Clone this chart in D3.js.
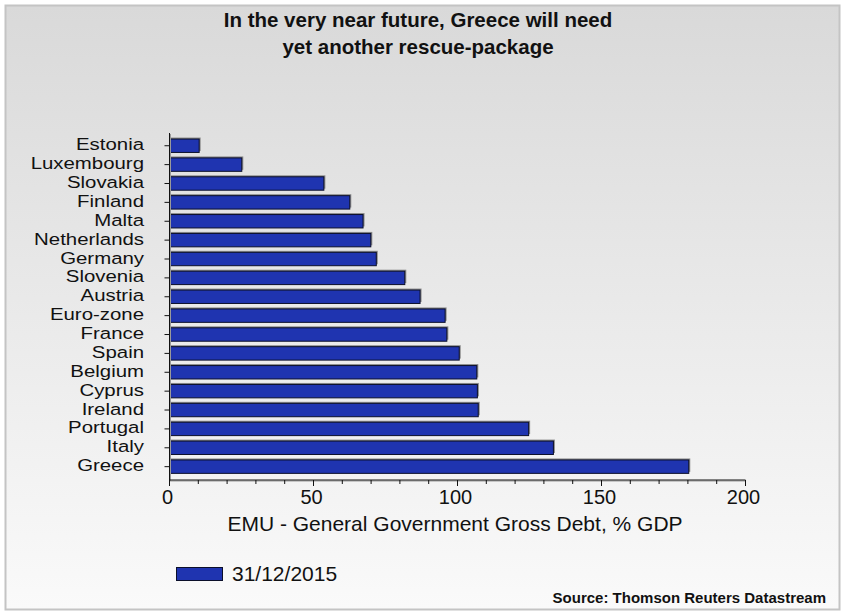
<!DOCTYPE html>
<html>
<head>
<meta charset="utf-8">
<script src="https://cdn.jsdelivr.net/npm/d3@7/dist/d3.min.js"></script>
<style>
  html, body { margin: 0; padding: 0; background: #ffffff; }
  svg { display: block; font-family: "Liberation Sans", Arial, sans-serif; }
</style>
</head>
<body>
<svg id="chart" width="843" height="612"></svg>
<script>
// EMU general government gross debt, % of GDP, as at 31/12/2015
const countries = ["Estonia", "Luxembourg", "Slovakia", "Finland", "Malta", "Netherlands",
  "Germany", "Slovenia", "Austria", "Euro-zone", "France", "Spain", "Belgium", "Cyprus",
  "Ireland", "Portugal", "Italy", "Greece"];
const debt2015 = [10.3, 25.1, 53.6, 62.6, 67.2, 69.9, 71.8, 81.7, 87.0, 95.7, 96.3, 100.6,
  106.7, 106.9, 107.2, 124.7, 133.3, 180.3];
const xTicks = [0, 50, 100, 150, 200];
const xMinorTicks = d3.range(0, 201, 10);
const seriesName = "31/12/2015";
const titleLines = ["In the very near future, Greece will need", "yet another rescue-package"];
const axisTitle = "EMU - General Government Gross Debt, % GDP";
const sourceNote = "Source: Thomson Reuters Datastream";

const svg = d3.select("#chart");
const barFill = "#1f34b0";

// panel background with a soft vertical gradient
const defs = svg.append("defs");
const grad = defs.append("linearGradient").attr("id", "bg").attr("x1", 0).attr("y1", 0).attr("x2", 0).attr("y2", 1);
grad.append("stop").attr("offset", "0%").attr("stop-color", "#d9d9d9");
grad.append("stop").attr("offset", "100%").attr("stop-color", "#fafafa");

svg.append("rect").attr("x", 5.5).attr("y", 5.5).attr("width", 834).attr("height", 604)
  .attr("fill", "url(#bg)").attr("stroke", "#c4c4c4").attr("stroke-width", 2);

// title
const title = svg.append("text").attr("text-anchor", "middle")
  .attr("font-weight", "bold").attr("font-size", 20.5).attr("fill", "#111");
titleLines.forEach((line, i) => {
  title.append("tspan").attr("x", 418).attr("y", 27 + i * 27).text(line);
});

// scales
const x = d3.scaleLinear().domain([0, 200]).range([169.5, 745.5]);
const y = d3.scaleBand().domain(countries).range([136.3, 476.1]).paddingInner(0.29).paddingOuter(0.145);

// bars: grey shadow then filled bar
const bars = svg.append("g");
bars.selectAll("rect.shadow").data(countries).join("rect").attr("class", "shadow")
  .attr("x", x(0) + 1.5).attr("y", d => y(d) - 1.5)
  .attr("width", (d, i) => x(debt2015[i]) - x(0))
  .attr("height", y.bandwidth())
  .attr("fill", "#8a8a8a");
bars.selectAll("rect.bar").data(countries).join("rect").attr("class", "bar")
  .attr("x", x(0)).attr("y", d => y(d))
  .attr("width", (d, i) => x(debt2015[i]) - x(0))
  .attr("height", y.bandwidth())
  .attr("fill", barFill).attr("stroke", "#0b0f2a").attr("stroke-width", 1);

// y axis
const yAxis = svg.append("g");
yAxis.append("line").attr("x1", x(0) + 1).attr("x2", x(0) + 1).attr("y1", 134).attr("y2", 481)
  .attr("stroke", "#9a9a9a").attr("stroke-width", 1);
yAxis.append("line").attr("x1", x(0)).attr("x2", x(0)).attr("y1", 133).attr("y2", 480)
  .attr("stroke", "#111").attr("stroke-width", 1);
yAxis.selectAll("line.tick").data(countries).join("line").attr("class", "tick")
  .attr("x1", x(0) - 5).attr("x2", x(0))
  .attr("y1", d => y(d) + y.bandwidth() / 2).attr("y2", d => y(d) + y.bandwidth() / 2)
  .attr("stroke", "#111");
yAxis.selectAll("text").data(countries).join("text")
  .attr("text-anchor", "end")
  .attr("transform", d => `translate(144, ${y(d) + y.bandwidth() / 2 + 4.5}) scale(1.2, 1)`)
  .attr("font-size", 17).attr("fill", "#111").text(d => d);

// x axis
const xAxis = svg.append("g");
xAxis.append("line").attr("x1", x(0)).attr("x2", x(200)).attr("y1", 481).attr("y2", 481)
  .attr("stroke", "#9a9a9a");
xAxis.append("line").attr("x1", x(0)).attr("x2", x(200)).attr("y1", 480).attr("y2", 480)
  .attr("stroke", "#111");
xAxis.selectAll("line.minor").data(xMinorTicks).join("line").attr("class", "minor")
  .attr("x1", d => x(d)).attr("x2", d => x(d)).attr("y1", 480).attr("y2", 484)
  .attr("stroke", "#111");
xAxis.selectAll("line.major").data(xTicks).join("line").attr("class", "major")
  .attr("x1", d => x(d)).attr("x2", d => x(d)).attr("y1", 480).attr("y2", 486)
  .attr("stroke", "#111");
xAxis.selectAll("text").data(xTicks).join("text")
  .attr("x", d => x(d) - 2).attr("y", 504).attr("text-anchor", "middle")
  .attr("font-size", 20).attr("fill", "#111").text(d => d);

svg.append("text").attr("x", 455).attr("y", 531).attr("text-anchor", "middle")
  .attr("font-size", 21).attr("fill", "#111").text(axisTitle);

// legend
svg.append("rect").attr("x", 176.5).attr("y", 567.5).attr("width", 46).attr("height", 13)
  .attr("fill", barFill).attr("stroke", "#0b0f2a");
svg.append("text").attr("x", 232).attr("y", 581).attr("font-size", 21).attr("fill", "#111").text(seriesName);

// source note
svg.append("text").attr("x", 826).attr("y", 603).attr("text-anchor", "end")
  .attr("font-size", 15).attr("font-weight", "bold").attr("fill", "#111").text(sourceNote);
</script>
</body>
</html>
